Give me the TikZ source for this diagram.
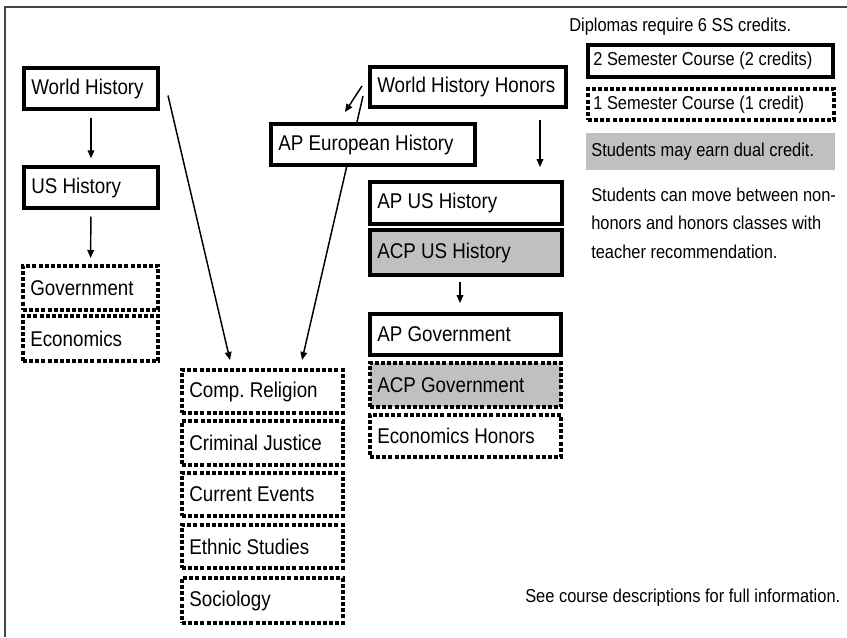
\documentclass[tikz,border=0pt]{standalone}
\usepackage{fontspec}
\setmainfont[FakeStretch=0.88]{Liberation Sans}
\usetikzlibrary{arrows.meta}
\definecolor{shade}{RGB}{192,192,192}
\definecolor{framec}{RGB}{70,70,70}
\begin{document}
\frenchspacing
\begin{tikzpicture}[x=0.75pt,y=-0.75pt,
  base/.style={rectangle, inner xsep=5.5pt, inner ysep=0pt, align=flush left,
    font=\fontsize{16}{19}\selectfont, fill=white},
  solidbox/.style={base, draw, line width=3pt},
  dotbox/.style={base, draw, line width=3pt, dash pattern=on 3pt off 1.6pt},
  graybox/.style={fill=shade},
  sz/.style 2 args={text width=#1*0.75pt-11pt, minimum height=#2*0.75pt},
  legend/.style={inner xsep=4pt, font=\fontsize{14}{17}\selectfont},
  lsz/.style 2 args={text width=#1*0.75pt-8pt, minimum height=#2*0.75pt},
  plain/.style={inner sep=0pt, anchor=west, font=\fontsize{14}{17}\selectfont},
  arr/.style={line width=1.1pt, -{Triangle[length=6pt,width=5pt]}},
]
\useasboundingbox (0,0) rectangle (847,637);
\draw[framec, line width=1.2pt] (5,637) -- (5,7) -- (847,7);

% left column
\node[solidbox, sz={134}{41}] (wh) at (91,88.5) {World History};
\node[solidbox, sz={134}{41}] (ush) at (91,187.5) {US History};
\node[dotbox, sz={135}{44}] (gov) at (90.5,288) {Government};
\node[dotbox, sz={135}{45}] (eco) at (90.5,338.5) {Economics};

% electives
\node[dotbox, sz={161}{43}] (comp) at (262.5,391.5) {Comp. Religion};
\node[dotbox, sz={161}{44}] (crim) at (262.5,443) {Criminal Justice};
\node[dotbox, sz={161}{43}] (curr) at (262.5,494.5) {Current Events};
\node[dotbox, sz={161}{43}] (eth) at (262.5,546.5) {Ethnic Studies};
\node[dotbox, sz={161}{45}] (soc) at (262.5,600.5) {Sociology};

% honors column
\node[solidbox, sz={196}{40}] (whh) at (468,87) {World History Honors};
\node[solidbox, sz={192}{42}] (apus) at (466,203) {AP US History};
\node[solidbox, graybox, sz={192}{45}] (acpus) at (466,252.5) {ACP US History};
\node[solidbox, sz={191}{41}] (apgov) at (465.5,334.5) {AP Government};
\node[dotbox, graybox, sz={191}{44}] (acpgov) at (465.5,385) {ACP Government};
\node[dotbox, sz={191}{42}] (ecoh) at (465.5,436) {Economics Honors};

% line passing behind AP European History
\draw[arr] ([shift={(-5,-13)}]whh.south west) -- ([shift={(39.5,-8)}]comp.north);
\node[solidbox, sz={204}{41}] (ape) at (373,144.5) {AP European History};

% arrows
\draw[arr, shorten <=5pt, shorten >=5pt] (wh) -- (ush);
\draw[arr, shorten <=5pt, shorten >=4.5pt] (ush) -- (gov);
\draw[arr] ([shift={(8,7)}]wh.east) -- ([shift={(-32.5,-8)}]comp.north);
\draw[arr] ([shift={(-6,-1)}]whh.west) -- ([shift={(-28,-10)}]ape.north);
\draw[arr] ([shift={(72,11)}]whh.south) -- ([shift={(74,-13)}]apus.north);
\draw[arr] ([shift={(-6,5)}]acpus.south) -- ([shift={(-5.5,-9)}]apgov.north);

% legend
\node[plain] (dipl) at (569,27) {Diplomas require 6 SS credits.};
\node[solidbox, legend, lsz={245}{32}] (leg2) at (710.5,61) {2 Semester Course (2 credits)};
\node[dotbox, legend, lsz={246}{31}] (leg1) at (711,104.5) {1 Semester Course (1 credit)};
\node[base, graybox, legend, lsz={249}{37}] (dual) at (710.5,151.5) {Students may earn dual credit.};
\node[plain, anchor=north west, align=left, font=\fontsize{14}{21.4}\selectfont] (move) at (591,187.5)
  {Students can move between non-\\honors and honors classes with\\teacher recommendation.};
\node[plain] (see) at (525,598) {See course descriptions for full information.};
\end{tikzpicture}
\end{document}
